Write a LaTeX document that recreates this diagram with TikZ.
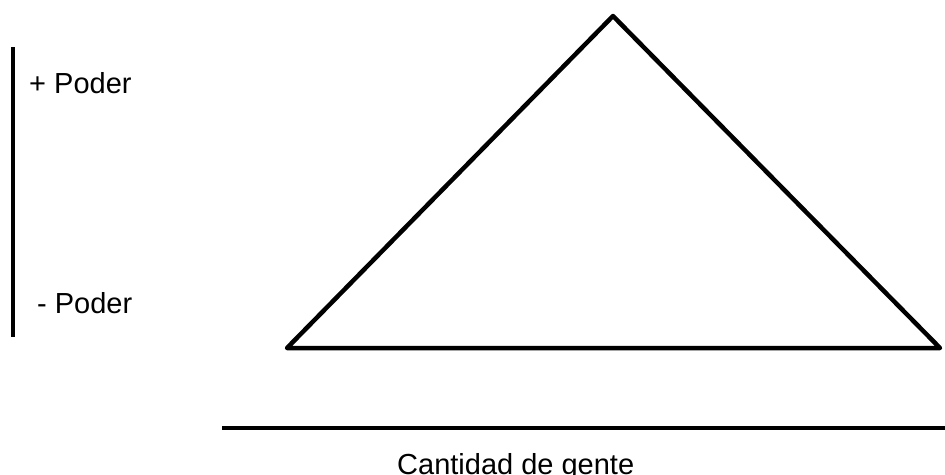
\documentclass[tikz,border=0pt]{standalone}
\usepackage{fontspec}
\setmainfont{Liberation Sans}
\begin{document}
\begin{tikzpicture}[x=1pt,y=-1pt,
  lbl/.style={inner sep=0pt,anchor=base west,font=\fontsize{29}{34}\selectfont},
  thick line/.style={line width=4.5pt,line join=round,line cap=round},
  rule/.style={line width=3.5pt}]
\useasboundingbox (0,0) rectangle (945,474);
% triangle
\coordinate (apex) at (613,16);
\coordinate (bl) at (287,348);
\coordinate (br) at (940,348);
\draw[thick line] (apex) -- (br) -- (bl) -- cycle;
% vertical axis
\coordinate (vtop) at (13,47);
\coordinate (vbot) at (13,337);
\draw[rule] (vtop) -- (vbot);
% horizontal axis
\coordinate (hl) at (222,428);
\coordinate (hr) at (946,428);
\draw[rule] (hl) -- (hr);
% labels
\node[lbl] (plus) at (29,93) {+ Poder};
\node[lbl] (minus) at (37,313) {- Poder};
\node[lbl] (cant) at (397,474) {Cantidad de gente};
\end{tikzpicture}
\end{document}
